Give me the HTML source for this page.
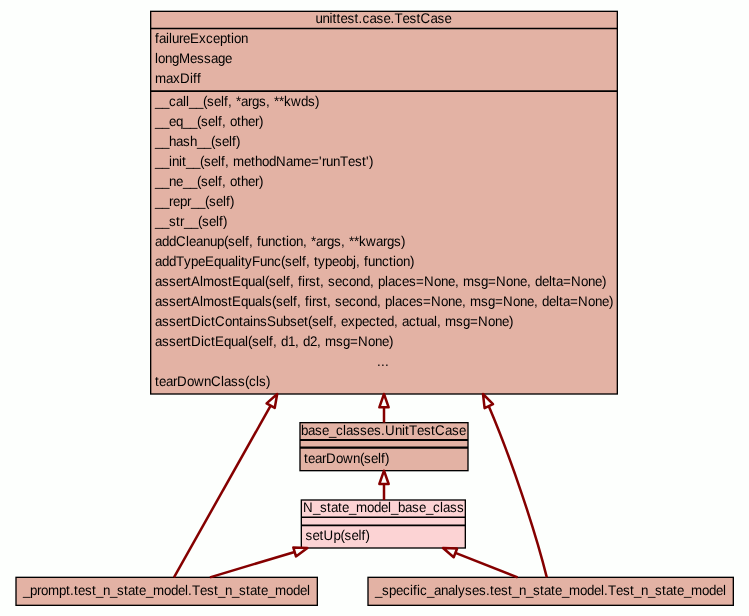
<!DOCTYPE html>
<html lang="en"><head><meta charset="utf-8"><title>classes</title>
<style>
html,body{margin:0;padding:0;background:#fdfffd;}
body{width:749px;height:616px;overflow:hidden;}
svg{display:block;will-change:transform;font-family:"Liberation Sans",sans-serif;font-size:13.333px;text-rendering:geometricPrecision;fill:#000;}
.n{fill:#e3b2a4;stroke:#000;stroke-width:1.333;}
.p{fill:#fcd3d4;stroke:#000;stroke-width:1.333;}
.l{stroke:#000;stroke-width:1.333;fill:none;}
.e{stroke:#850000;stroke-width:2.5;fill:none;}
.a{stroke:#850000;stroke-width:2.5;fill:#fdfffd;stroke-linejoin:round;}
text{white-space:pre;}
</style></head><body>
<svg width="749" height="616" viewBox="0 0 749 616">
<rect x="0" y="0" width="749" height="616" fill="#fdfffd"/>
<rect class="n" x="150.67" y="11.33" width="466.66" height="382.67"/>
<path class="l" style="stroke-width:1.7" d="M150.67 28.5H617.33"/>
<path class="l" style="stroke-width:1.8" d="M150.67 91.1H617.33"/>
<text transform="translate(0 23.1) scale(1 1.05)" x="315.5 322.5 329.5 332.5 336.5 340.5 347.5 354.5 358.5 362.5 369.5 376.5 383.5 390.5 394.5 402.5 409.5 416.5 420.5 430.5 437.5 444.5" y="0">unittest.case.TestCase</text>
<text transform="translate(0 43.1) scale(1 1.05)" x="155 159 166 169 172 179 183 190 199 206 213 220 227 231 234 241" y="0">failureException</text>
<text transform="translate(0 63.1) scale(1 1.05)" x="155 158 165 172 179 190 197 204 211 218 225" y="0">longMessage</text>
<text transform="translate(0 83.1) scale(1 1.05)" x="155 166 173 180 190 193 197" y="0">maxDiff</text>
<text transform="translate(0 106.1) scale(1 1.05)" x="155 162 169 176 183 186 189 196 203 207 214 221 224 228 232 236 241 248 252 259 266 270 274 279 284 291 301 308 315" y="0">__call__(self, *args, **kwds)</text>
<text transform="translate(0 126.1) scale(1 1.05)" x="155 162 169 176 183 190 197 201 208 215 218 222 226 230 237 241 248 255 259" y="0">__eq__(self, other)</text>
<text transform="translate(0 146.1) scale(1 1.05)" x="155 162 169 176 183 190 197 204 211 215 222 229 232 236" y="0">__hash__(self)</text>
<text transform="translate(0 166.1) scale(1 1.05)" x="155 162 169 172 179 182 186 193 200 204 211 218 221 225 229 233 244 251 255 262 269 276 286 293 304 311 319 322 326 333 340 348 355 362 366 369" y="0">__init__(self, methodName='runTest')</text>
<text transform="translate(0 186.1) scale(1 1.05)" x="155 162 169 176 183 190 197 201 208 215 218 222 226 230 237 241 248 255 259" y="0">__ne__(self, other)</text>
<text transform="translate(0 206.1) scale(1 1.05)" x="155 162 169 173 180 187 191 198 205 209 216 223 226 230" y="0">__repr__(self)</text>
<text transform="translate(0 226.1) scale(1 1.05)" x="155 162 169 176 180 184 191 198 202 209 216 219 223" y="0">__str__(self)</text>
<text transform="translate(0 246.1) scale(1 1.05)" x="155 162 169 176 186 189 196 203 210 217 224 228 235 242 245 249 253 257 261 268 275 282 286 289 296 303 307 311 316 323 327 334 341 345 349 354 359 366 376 383 387 394 401" y="0">addCleanup(self, function, *args, **kwargs)</text>
<text transform="translate(0 266.1) scale(1 1.05)" x="155 162 169 176 184 191 198 205 214 221 228 235 238 241 245 252 260 267 274 281 285 292 299 302 306 310 314 318 325 332 339 346 353 356 360 364 368 375 382 389 393 396 403 410" y="0">addTypeEqualityFunc(self, typeobj, function)</text>
<text transform="translate(0 286.1) scale(1 1.05)" x="155 162 169 176 183 187 191 200 203 214 221 228 232 241 248 255 262 265 269 276 283 286 290 294 298 302 305 309 316 320 324 328 335 342 349 356 363 370 374 378 385 388 395 402 409 416 424 434 441 448 455 459 463 474 481 488 496 506 513 520 527 531 535 542 549 552 556 563 571 581 588 595 602" y="0">assertAlmostEqual(self, first, second, places=None, msg=None, delta=None)</text>
<text transform="translate(0 306.1) scale(1 1.05)" x="155 162 169 176 183 187 191 200 203 214 221 228 232 241 248 255 262 265 272 276 283 290 293 297 301 305 309 312 316 323 327 331 335 342 349 356 363 370 377 381 385 392 395 402 409 416 423 431 441 448 455 462 466 470 481 488 495 503 513 520 527 534 538 542 549 556 559 563 570 578 588 595 602 609" y="0">assertAlmostEquals(self, first, second, places=None, msg=None, delta=None)</text>
<text transform="translate(0 326.1) scale(1 1.05)" x="155 162 169 176 183 187 191 201 204 211 215 225 232 239 243 250 253 260 267 276 283 290 297 304 308 312 319 326 329 333 337 341 348 355 362 369 376 380 387 394 398 402 409 416 420 427 434 437 441 445 456 463 470 478 488 495 502 509" y="0">assertDictContainsSubset(self, expected, actual, msg=None)</text>
<text transform="translate(0 346.1) scale(1 1.05)" x="155 162 169 176 183 187 191 201 204 211 215 224 231 238 245 248 252 259 266 269 273 277 281 288 295 299 303 310 317 321 325 336 343 350 358 368 375 382 389" y="0">assertDictEqual(self, d1, d2, msg=None)</text>
<text transform="translate(0 366.1) scale(1 1.05)" x="377 381 385" y="0">...</text>
<text transform="translate(0 386.1) scale(1 1.05)" x="155 159 166 173 177 187 194 204 211 221 224 231 238 245 249 256 259 266" y="0">tearDownClass(cls)</text>
<rect class="n" x="300" y="422.67" width="168" height="48.0"/>
<path class="l" style="stroke-width:2.0" d="M300 440.1H468"/>
<path class="l" style="stroke-width:2.1" d="M300 447.6H468"/>
<text transform="translate(0 434.7) scale(1 1.05)" x="301 308 315 322 329 336 343 346 353 360 367 374 381 385 395 402 405 409 417 424 431 435 445 452 459" y="0">base_classes.UnitTestCase</text>
<text transform="translate(0 462.6) scale(1 1.05)" x="304 308 315 322 326 336 343 353 360 364 371 378 381 385" y="0">tearDown(self)</text>
<rect class="p" x="301.33" y="500" width="164.0" height="48"/>
<path class="l" style="stroke-width:1.6" d="M301.33 517.3H465.33"/>
<path class="l" style="stroke-width:1.7" d="M301.33 525.3H465.33"/>
<text transform="translate(0 512.1) scale(1 1.05)" x="303 313 320 327 331 338 342 349 356 367 374 381 388 391 398 405 412 419 426 433 440 443 450 457" y="0">N_state_model_base_class</text>
<text transform="translate(0 539.6) scale(1 1.05)" x="305.4 312.4 319.4 323.4 333.4 340.4 344.4 351.4 358.4 361.4 365.4" y="0">setUp(self)</text>
<rect class="n" x="16" y="577.33" width="301.33" height="28.0"/>
<text transform="translate(0 595.1) scale(1 1.05)" x="23 30 37 41 48 59 66 70 74 78 85 92 96 103 110 117 124 128 135 139 146 153 164 171 178 185 188 192 200 207 214 218 225 232 239 246 250 257 261 268 275 286 293 300 307" y="0">_prompt.test_n_state_model.Test_n_state_model</text>
<rect class="n" x="368" y="577.33" width="365.33" height="28.0"/>
<text transform="translate(0 595.1) scale(1 1.05)" x="375 382 389 396 403 410 413 417 420 427 434 441 448 455 458 465 472 479 486 490 494 501 508 512 519 526 533 540 544 551 555 562 569 580 587 594 601 604 608 616 623 630 634 641 648 655 662 666 673 677 684 691 702 709 716 723" y="0">_specific_analyses.test_n_state_model.Test_n_state_model</text>
<path class="e" d="M174.00 577.33L270.66 405.62"/>
<path class="a" d="M274.73 407.91L277.20 394.00L266.59 403.33Z"/>
<path class="e" d="M210.00 577.33L294.63 551.93"/>
<path class="a" d="M295.97 556.40L307.40 548.10L293.29 547.46Z"/>
<path class="e" d="M384.00 500.00L384.00 484.00"/>
<path class="a" d="M388.67 484.00L384.00 470.67L379.33 484.00Z"/>
<path class="e" d="M384.00 422.67L384.00 407.33"/>
<path class="a" d="M388.67 407.33L384.00 394.00L379.33 407.33Z"/>
<path class="e" d="M517.60 577.33L455.41 552.88"/>
<path class="a" d="M457.12 548.54L443.00 548.00L453.70 557.22Z"/>
<path class="e" d="M546.8 577.33C535.3 531.4 511.6 459.5 488.8 406.2"/>
<path class="a" d="M493.01 404.20L483.00 394.00L484.59 408.20Z"/>
</svg>
</body></html>
